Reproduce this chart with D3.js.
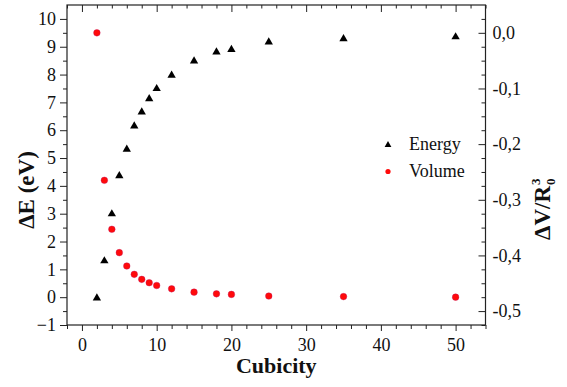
<!DOCTYPE html>
<html><head><meta charset="utf-8">
<script src="https://cdn.jsdelivr.net/npm/d3@7"></script>
<style>body{margin:0;background:#fff}svg{display:block}</style>
</head><body><svg id="c" width="567" height="387" font-family="Liberation Serif"></svg>
<script>
const cubicity = [2,3,4,5,6,7,8,9,10,12,15,18,20,25,35,50];
const energy = [0,1.33,3.02,4.39,5.34,6.18,6.68,7.16,7.52,8.0,8.51,8.84,8.93,9.2,9.31,9.38];
const volume = [0,-0.265,-0.353,-0.395,-0.419,-0.434,-0.443,-0.449,-0.454,-0.460,-0.466,-0.469,-0.470,-0.473,-0.474,-0.475];
const xTicks = [0,10,20,30,40,50];
const yLeftTicks = [-1,0,1,2,3,4,5,6,7,8,9,10];
const yRightTicks = [0,-0.1,-0.2,-0.3,-0.4,-0.5];
const seriesNames = ["Energy","Volume"];

const L=67,R=485.5,T=5,B=325;
const svg=d3.select("#c");
const x=d3.scaleLinear().domain([-2,54]).range([L,R]);
const yL=d3.scaleLinear().domain([-1,10.5]).range([B,T]);
const yR=d3.scaleLinear().domain([-0.525,0.05]).range([B,T]);
const fmtR=v=>d3.format(".1f")(v).replace(".",",").replace("\u2212","-");

const ax="#222";
function styleAxis(g){g.attr("font-family","Liberation Serif").attr("font-size",18);g.select(".domain").remove();g.selectAll("line").attr("stroke",ax).attr("stroke-width",1);g.selectAll("text").attr("fill","#111");}

const xMinor=d3.range(-2,55,2).filter(v=>!xTicks.includes(v));
const yLMinor=d3.range(-0.5,10.5,1);
const yRMinor=d3.range(-0.525,0.05,0.025).map(v=>+v.toFixed(3)).filter(v=>!yRightTicks.some(t=>Math.abs(t-v)<1e-6));

svg.append("g").attr("transform",`translate(0,${B})`).call(d3.axisBottom(x).tickValues(xTicks).tickSize(6).tickPadding(7).tickFormat(d3.format("d"))).call(styleAxis);
svg.append("g").attr("transform",`translate(0,${B})`).call(d3.axisBottom(x).tickValues(xMinor).tickSize(4).tickFormat("")).call(styleAxis);
svg.append("g").attr("transform",`translate(0,${T})`).call(d3.axisBottom(x).tickValues(xTicks).tickSize(7).tickFormat("")).call(styleAxis);
svg.append("g").attr("transform",`translate(0,${T})`).call(d3.axisBottom(x).tickValues(xMinor).tickSize(3.5).tickFormat("")).call(styleAxis);
svg.append("g").attr("transform",`translate(${L},0)`).call(d3.axisLeft(yL).tickValues(yLeftTicks).tickSize(7).tickPadding(4).tickFormat(d3.format("d"))).call(styleAxis);
svg.append("g").attr("transform",`translate(${L},0)`).call(d3.axisLeft(yL).tickValues(yLMinor).tickSize(4).tickFormat("")).call(styleAxis);
const gr=svg.append("g").attr("transform",`translate(${R},0)`).call(d3.axisLeft(yR).tickValues(yRightTicks).tickSize(7).tickFormat(fmtR)).call(styleAxis);
gr.selectAll("text").attr("x",7).attr("text-anchor","start");
svg.append("g").attr("transform",`translate(${R},0)`).call(d3.axisLeft(yR).tickValues(yRMinor).tickSize(4).tickFormat("")).call(styleAxis);

svg.append("rect").attr("x",L).attr("y",T).attr("width",R-L).attr("height",B-T).attr("fill","none").attr("stroke",ax).attr("stroke-width",1.2);

const tri=d3.symbol().type(d3.symbolTriangle).size(30);
svg.append("g").selectAll("path").data(cubicity).join("path")
  .attr("d",tri).attr("transform",(d,i)=>`translate(${x(d)},${yL(energy[i])+0.8})`).attr("fill","#000");
svg.append("g").selectAll("circle").data(cubicity).join("circle")
  .attr("cx",d=>x(d)).attr("cy",(d,i)=>yR(volume[i])).attr("r",3.3).attr("fill","#ff0a0a").attr("stroke","#c0105a").attr("stroke-width",0.4);

const tri2=d3.symbol().type(d3.symbolTriangle).size(20);
svg.append("path").attr("d",tri2).attr("transform","translate(388,145)").attr("fill","#000");
svg.append("circle").attr("cx",388).attr("cy",171.5).attr("r",2.6).attr("fill","#ff0a0a");
svg.append("text").attr("x",409).attr("y",150).attr("font-size",18).text(seriesNames[0]);
svg.append("text").attr("x",409).attr("y",177).attr("font-size",18).text(seriesNames[1]);

svg.append("text").attr("x",(L+R)/2).attr("y",373).attr("text-anchor","middle").attr("font-size",22).attr("font-weight","bold").text("Cubicity");
svg.append("text").attr("transform","translate(34,190) rotate(-90)").attr("text-anchor","middle").attr("font-size",23).attr("font-weight","bold").text("\u0394E (eV)");
const rt=svg.append("g").attr("transform","translate(550,240) rotate(-90)").attr("font-weight","bold");
const main=rt.append("text").attr("x",0).attr("y",0).attr("font-size",23).text("\u0394V/R");
const Lw=main.node().getComputedTextLength();
rt.append("text").attr("x",Lw+1).attr("y",-10).attr("font-size",13).text("3");
rt.append("text").attr("x",Lw+1).attr("y",5).attr("font-size",13).text("0");
svg.selectAll("text").attr("font-family","Liberation Serif").attr("fill","#111");
</script></body></html>
